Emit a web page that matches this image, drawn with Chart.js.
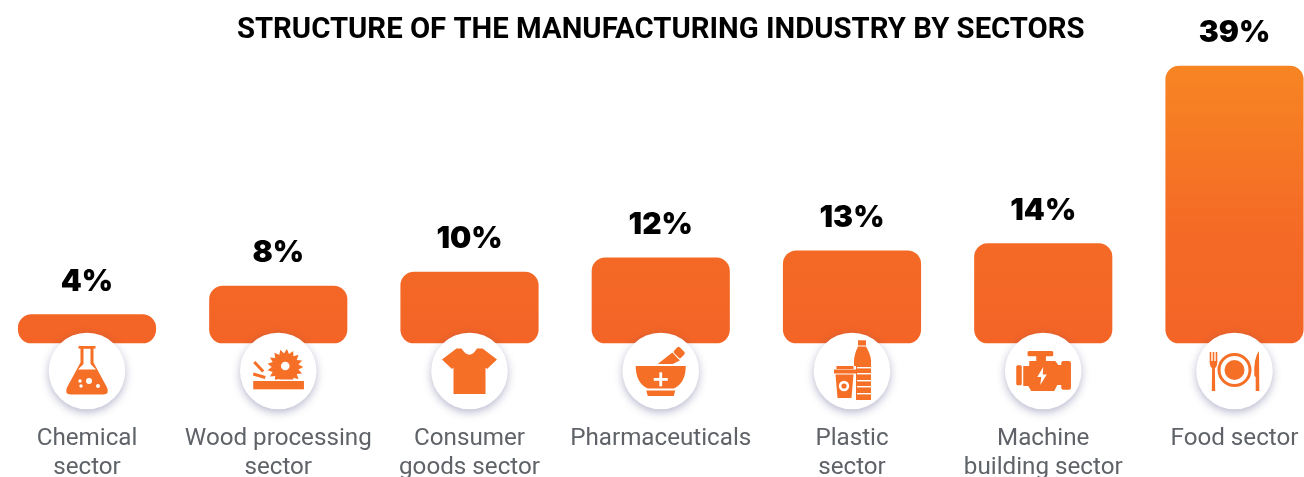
<!DOCTYPE html>
<html lang="en">
<head>
    <meta charset="UTF-8">
    <title>Structure of the manufacturing industry by sectors</title>
    <script src="https://cdn.jsdelivr.net/npm/chart.js"></script>
    <style>
        html, body { margin: 0; padding: 0; background: #fff; overflow: hidden; }
        canvas { display: block; }
    </style>
</head>
<body>
    <canvas id="sectorChart" width="1304" height="477"></canvas>
    <script>
        const chartTitle = 'STRUCTURE OF THE MANUFACTURING INDUSTRY BY SECTORS';
        const sectors = [
            ['Chemical', 'sector'],
            ['Wood processing', 'sector'],
            ['Consumer', 'goods sector'],
            ['Pharmaceuticals'],
            ['Plastic', 'sector'],
            ['Machine', 'building sector'],
            ['Food sector']
        ];
        const shares = [4, 8, 10, 12, 13, 14, 39];
        const iconNames = ['flask', 'saw', 'shirt', 'mortar', 'bottle', 'engine', 'plate'];

        const ORANGE = '#f56f27';

        // each icon draws round (0,0), the middle of its white circle
        const icons = {
            flask(ctx) {
                ctx.fillRect(-8.5, -25, 17, 2.6);
                ctx.fill(new Path2D('M-6.5 -23 L-6.5 -8.5 L-20 16.5 Q-23 23 -16 23.5 L16 23.5 Q23 23 20 16.5 L6.5 -8.5 L6.5 -23 Z M-3.5 -22.5 L-3.5 -7 L-9 -1.5 L9 -1.5 L3.5 -7 L3.5 -22.5 Z'), 'evenodd');
                ctx.fillStyle = '#fff';
                [[2, 10, 3], [-7, 10, 1.7], [-6, 15, 1.7], [11, 15, 2]].forEach(b => {
                    ctx.beginPath();
                    ctx.arc(b[0], b[1], b[2], 0, Math.PI * 2);
                    ctx.fill();
                });
            },
            saw(ctx) {
                ctx.beginPath();
                for (let i = 0; i < 34; i++) {
                    const a = i * Math.PI / 17;
                    const r = i % 2 ? 13.5 : 18;
                    ctx.lineTo(7 + r * Math.cos(a), -4 + r * Math.sin(a));
                }
                ctx.closePath();
                ctx.fill();
                ctx.fillStyle = '#fff';
                ctx.fillRect(-14, 8.5, 42, 1.5);
                ctx.beginPath();
                ctx.arc(7, -5, 4.3, 0, Math.PI * 2);
                ctx.fill();
                ctx.fillStyle = ORANGE;
                ctx.fillRect(-25, 10, 50.7, 8.3);
                ctx.strokeStyle = ORANGE;
                ctx.lineWidth = 3;
                ctx.beginPath();
                ctx.moveTo(-24, -9);
                ctx.lineTo(-15, 0.5);
                ctx.moveTo(-25, 3);
                ctx.lineTo(-13, 6.5);
                ctx.stroke();
            },
            shirt(ctx) {
                ctx.fill(new Path2D('M-8 -22.5 Q0 -10 7.5 -22.5 L13 -22.5 L27.5 -11.5 L17.5 -2 L16 -3.5 L16 23 L-16 23 L-16 -3.5 L-17.5 -2 L-27.5 -11.5 L-13 -22.5 Z'));
            },
            mortar(ctx) {
                ctx.fill(new Path2D('M-25 -5 L25 -5 Q25 12 13 17.5 L-13 17.5 Q-25 12 -25 -5 Z M-14.5 19.5 L14.5 19.5 L13 25 L-13 25 Z'));
                ctx.fill(new Path2D('M-3 -7 L11.5 -18.5 L19 -10.5 L12 -7 Z'));
                ctx.save();
                ctx.translate(18.5, -18.5);
                ctx.rotate(Math.PI / 4);
                ctx.beginPath();
                ctx.roundRect(-5, -4, 10, 8, 2);
                ctx.fill();
                ctx.restore();
                ctx.fillStyle = '#fff';
                ctx.fillRect(-7, 7, 14, 2.8);
                ctx.fillRect(-1.4, 1.3, 2.8, 14);
            },
            bottle(ctx) {
                ctx.fillRect(6, -30.7, 8, 5.2);
                ctx.fill(new Path2D('M6 -24.5 L14 -24.5 Q19 -16 19 -10 L19 29 L2 29 L2 -10 Q2 -16 6 -24.5 Z'));
                ctx.fillStyle = '#fff';
                [-4, 2, 9, 15, 22].forEach(y => ctx.fillRect(5, y, 14, 1.4));
                ctx.fillRect(1, -5, 3, 34);
                ctx.fillStyle = ORANGE;
                ctx.fillRect(-18, -1.5, 22, 4);
                ctx.fillRect(-15.5, -5, 17, 3);
                ctx.fill(new Path2D('M-16.5 3.5 L1.5 3.5 L-0.5 27 L-14.5 27 Z'));
                ctx.fillStyle = '#fff';
                ctx.beginPath();
                ctx.arc(-8, 15, 5.2, 0, Math.PI * 2);
                ctx.fill();
                ctx.fillStyle = ORANGE;
                ctx.beginPath();
                ctx.arc(-8, 15, 2.6, 0, Math.PI * 2);
                ctx.fill();
            },
            engine(ctx) {
                ctx.beginPath();
                ctx.roundRect(-15.7, -20, 25.7, 5.3, 1.5);
                ctx.fill();
                ctx.fillRect(-7, -15, 9.7, 7);
                ctx.fill(new Path2D('M-14 -10 L12 -10 L15 -6 L19.5 -6 L19.5 14 L14 14 L11 20 L-12 20 L-15 15 L-20 15 L-20 -5 L-14 -5 Z'));
                ctx.beginPath();
                ctx.roundRect(-27, -5.7, 5.5, 20, 1.5);
                ctx.roundRect(18, -10, 9.7, 28.7, 2);
                ctx.fill();
                ctx.fillStyle = '#fff';
                ctx.fill(new Path2D('M0 -4 L-6 6 L-2 6 L-3 14 L3.5 3.5 L-0.5 3.5 Z'));
            },
            plate(ctx) {
                ctx.lineWidth = 3;
                ctx.strokeStyle = ORANGE;
                ctx.beginPath();
                ctx.arc(0, -1, 15.5, 0, Math.PI * 2);
                ctx.stroke();
                ctx.beginPath();
                ctx.arc(0, -1, 10, 0, Math.PI * 2);
                ctx.fill();
                // fork
                ctx.fillRect(-24.8, -19, 1.6, 10);
                ctx.fillRect(-21.8, -19, 1.6, 10);
                ctx.fillRect(-18.8, -19, 1.6, 10);
                ctx.fill(new Path2D('M-24.8 -10 L-17.2 -10 Q-17.2 -4 -19.6 -3 L-19.3 20 L-22.7 20 L-22.4 -3 Q-24.8 -4 -24.8 -10 Z'));
                // knife
                ctx.fill(new Path2D('M24.5 -20 L24.8 20 L21.2 20 L21.2 6 L19.8 5 Q19 -13 24.5 -20 Z'));
            }
        };

        // white round badges with the icons, and the percent values above the bars
        const sectorDecor = {
            id: 'sectorDecor',
            afterDatasetsDraw(chart) {
                const ctx = chart.ctx;
                const bars = chart.getDatasetMeta(0).data;
                ctx.save();
                ctx.textAlign = 'center';
                ctx.textBaseline = 'alphabetic';
                ctx.fillStyle = '#000';
                ctx.font = '900 30px Inter';
                bars.forEach((bar, i) => {
                    ctx.fillText(shares[i] + '%', bar.x, bar.y - 24);
                });
                bars.forEach((bar, i) => {
                    const cy = chart.chartArea.bottom + 28;
                    ctx.save();
                    ctx.shadowColor = 'rgba(70, 70, 130, 0.38)';
                    ctx.shadowBlur = 9;
                    ctx.shadowOffsetY = 3;
                    ctx.fillStyle = '#fff';
                    ctx.beginPath();
                    ctx.arc(bar.x, cy, 38.3, 0, Math.PI * 2);
                    ctx.fill();
                    ctx.restore();

                    ctx.save();
                    ctx.translate(bar.x, cy);
                    ctx.fillStyle = ORANGE;
                    icons[iconNames[i]](ctx);
                    ctx.restore();
                });
                ctx.restore();
            }
        };

        function barFill(context) {
            const chart = context.chart;
            const y = chart.scales.y;
            if (!chart.chartArea || !y) return '#f46526';
            const g = chart.ctx.createLinearGradient(0, y.getPixelForValue(39), 0, y.getPixelForValue(0));
            g.addColorStop(0, '#f78523');
            g.addColorStop(0.6, '#f46a26');
            g.addColorStop(1, '#f36426');
            return g;
        }

        new Chart(document.getElementById('sectorChart'), {
            type: 'bar',
            data: {
                labels: sectors,
                datasets: [{
                    data: shares,
                    backgroundColor: barFill,
                    barThickness: 137.5,
                    borderRadius: 13.5,
                    borderSkipped: false,
                    clip: false
                }]
            },
            plugins: [sectorDecor],
            options: {
                responsive: false,
                animation: false,
                layout: { padding: { left: 87, right: 69.5, top: 0, bottom: 0 } },
                plugins: {
                    legend: { display: false },
                    tooltip: { enabled: false },
                    title: {
                        display: true,
                        text: chartTitle,
                        fullSize: false,
                        color: '#000',
                        font: { family: 'Roboto', size: 29.3, weight: '700', lineHeight: 1.2 },
                        padding: { top: 13, bottom: 0 }
                    }
                },
                scales: {
                    x: {
                        offset: false,
                        grid: { display: false, offset: false },
                        border: { display: false },
                        afterFit(scale) {
                            // bar edges and labels may pass the chart area, so no extra room for them
                            scale.height = 134;
                            scale.paddingLeft = 0;
                            scale.paddingRight = 0;
                        },
                        ticks: {
                            autoSkip: false,
                            maxRotation: 0,
                            padding: 74,
                            color: '#5f6368',
                            font: { family: 'Roboto', size: 24.2, lineHeight: 1.17 }
                        }
                    },
                    y: {
                        display: false,
                        min: 0,
                        max: 41.53
                    }
                }
            }
        });
    </script>
</body>
</html>
